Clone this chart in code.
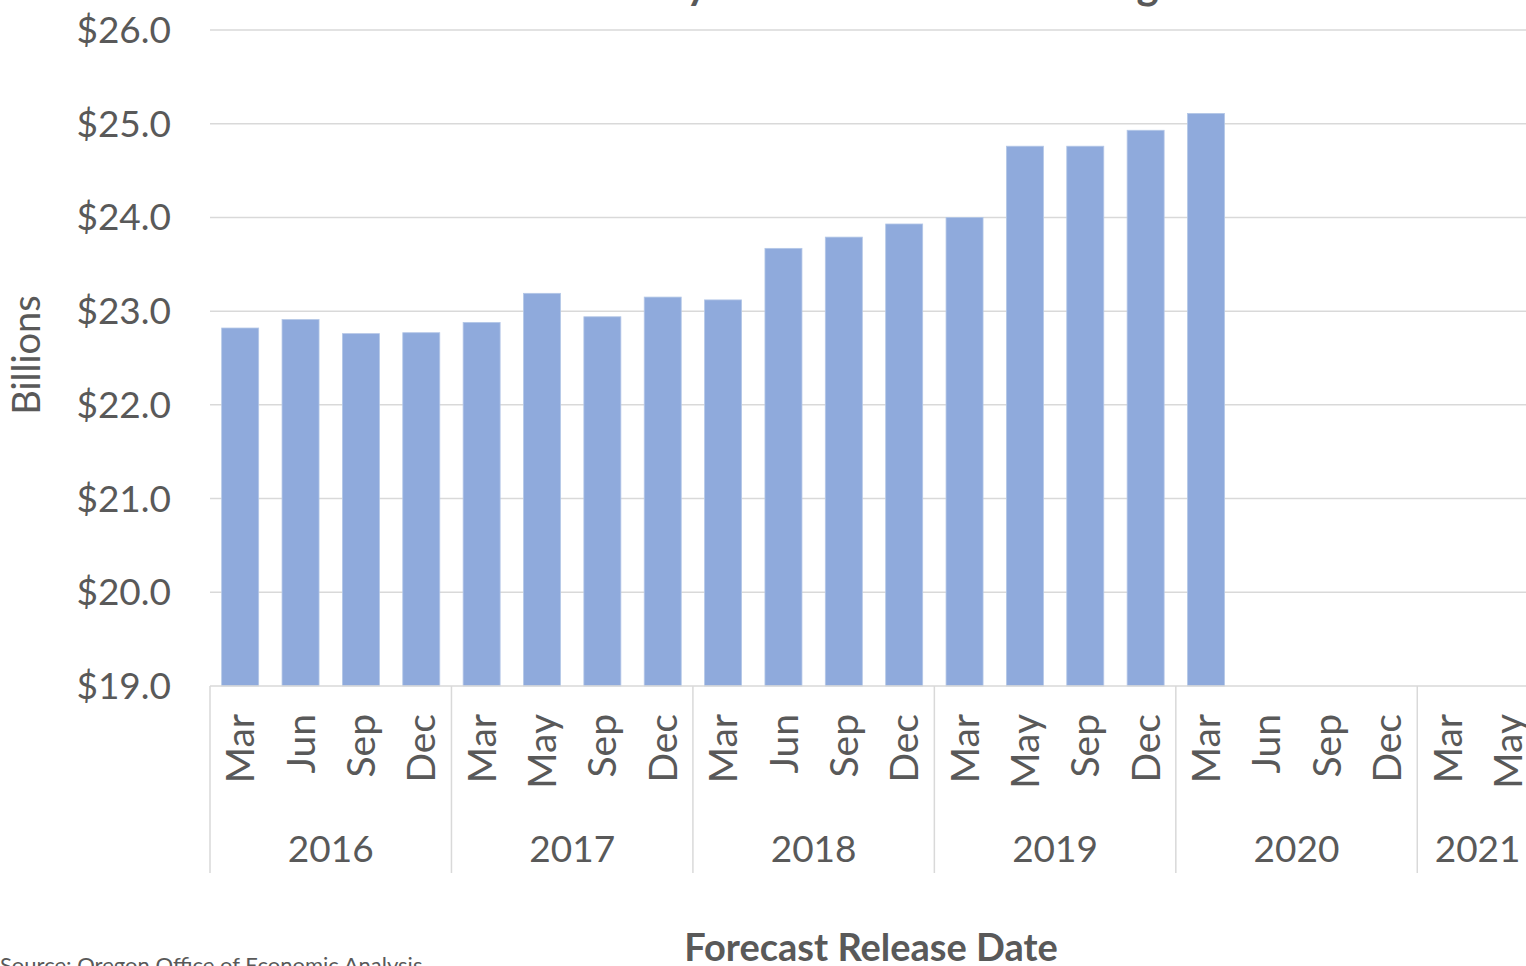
<!DOCTYPE html>
<html>
<head>
<meta charset="utf-8">
<script src="https://cdn.jsdelivr.net/npm/d3@7"></script>
<style>
  body { margin: 0; background: #fff; overflow: hidden; }
  text { font-family: Lato, 'Open Sans', sans-serif; fill: #595959; }
</style>
</head>
<body>
<div id="chart"></div>
<script>
// forecast release dates, grouped by year
let years = ['2016', '2017', '2018', '2019', '2020', '2021']
let months = [
  ['Mar', 'Jun', 'Sep', 'Dec'],
  ['Mar', 'May', 'Sep', 'Dec'],
  ['Mar', 'Jun', 'Sep', 'Dec'],
  ['Mar', 'May', 'Sep', 'Dec'],
  ['Mar', 'Jun', 'Sep', 'Dec'],
  ['Mar', 'May']
]
// total resources, $ billions (empty releases have no bar)
let values = [
  22.82, 22.91, 22.76, 22.77,
  22.88, 23.19, 22.94, 23.15,
  23.12, 23.67, 23.79, 23.93,
  24.00, 24.76, 24.76, 24.93,
  25.11, null, null, null,
  null, null
]
let yTicks = [19, 20, 21, 22, 23, 24, 25, 26]

let margin = { top: 30, left: 210, right: 0, bottom: 280 }
let width = 1526
let height = 966
let plotRight = 1538

let svg = d3
  .select('#chart')
  .append('svg')
  .attr('width', width)
  .attr('height', height)

// flatten categories
let cats = []
months.forEach((ms, yi) => {
  ms.forEach(m => cats.push({ year: years[yi], month: m }))
})
cats.forEach((c, i) => (c.value = values[i]))

let xScale = d3
  .scaleBand()
  .domain(cats.map((d, i) => i))
  .range([margin.left, plotRight])
  .paddingInner(0.387)
  .paddingOuter(0.387 / 2)

let yScale = d3
  .scaleLinear()
  .domain([19, 26])
  .range([686, margin.top])

// gridlines
svg
  .selectAll('.grid')
  .data(yTicks.slice(1))
  .enter()
  .append('line')
  .attr('class', 'grid')
  .attr('x1', margin.left)
  .attr('x2', width)
  .attr('y1', d => yScale(d))
  .attr('y2', d => yScale(d))
  .attr('stroke', '#d9d9d9')
  .attr('stroke-width', 1.5)

// y tick labels
svg
  .selectAll('.ytick')
  .data(yTicks)
  .enter()
  .append('text')
  .attr('class', 'ytick')
  .attr('x', 171)
  .attr('y', d => yScale(d))
  .attr('dy', '0.35em')
  .attr('text-anchor', 'end')
  .attr('font-size', 37)
  .text(d => '$' + d3.format('.1f')(d))

// bars
svg
  .selectAll('.bar')
  .data(cats.filter(d => d.value != null))
  .enter()
  .append('rect')
  .attr('class', 'bar')
  .attr('x', d => xScale(cats.indexOf(d)))
  .attr('width', xScale.bandwidth())
  .attr('y', d => yScale(d.value))
  .attr('height', d => yScale(19) - yScale(d.value))
  .attr('fill', '#8faadc')
  .attr('stroke', '#b4c7e7')
  .attr('stroke-width', 0.8)

// category axis line
svg
  .append('line')
  .attr('x1', margin.left)
  .attr('x2', width)
  .attr('y1', 686)
  .attr('y2', 686)
  .attr('stroke', '#d9d9d9')
  .attr('stroke-width', 1.5)

// year separators
let step = xScale.step()
let bounds = [0]
months.forEach((ms, i) => bounds.push(bounds[i] + ms.length))
svg
  .selectAll('.sep')
  .data(bounds.slice(0, -1))
  .enter()
  .append('line')
  .attr('class', 'sep')
  .attr('x1', d => margin.left + d * step)
  .attr('x2', d => margin.left + d * step)
  .attr('y1', 686)
  .attr('y2', 873)
  .attr('stroke', '#d9d9d9')
  .attr('stroke-width', 1.5)

// month labels
svg
  .selectAll('.month')
  .data(cats)
  .enter()
  .append('text')
  .attr('class', 'month')
  .attr('transform', (d, i) => `translate(${xScale(i) + xScale.bandwidth() / 2},714) rotate(-90)`)
  .attr('dy', '0.36em')
  .attr('text-anchor', 'end')
  .attr('font-size', 39)
  .text(d => d.month)

// year labels
svg
  .selectAll('.year')
  .data(years)
  .enter()
  .append('text')
  .attr('class', 'year')
  .attr('x', (d, i) => margin.left + ((bounds[i] + bounds[i + 1]) / 2) * step)
  .attr('y', 862)
  .attr('text-anchor', 'middle')
  .attr('font-size', 37)
  .text(d => d)

// axis titles
svg
  .append('text')
  .attr('transform', 'translate(40,355) rotate(-90)')
  .attr('text-anchor', 'middle')
  .attr('font-size', 38)
  .text('Billions')

svg
  .append('text')
  .attr('x', 871)
  .attr('y', 961)
  .attr('text-anchor', 'middle')
  .attr('font-size', 38)
  .attr('font-weight', 'bold')
  .text('Forecast Release Date')

// chart title, mostly above the visible area
let titleText = '2019-21 Revenue Outlook by Forecast Release Changes'
let title = svg
  .append('text')
  .attr('x', 0)
  .attr('y', -1)
  .attr('font-size', 42)
  .attr('font-weight', 'bold')
  .text(titleText)
// line the "y" of "by" up with the reference
let yOffset = title.node().getSubStringLength(0, titleText.indexOf('by ') + 1)
title.attr('x', 686 - yOffset)

// source
svg
  .append('text')
  .attr('x', 0)
  .attr('y', 973)
  .attr('font-size', 22)
  .text('Source: Oregon Office of Economic Analysis')
</script>
</body>
</html>
